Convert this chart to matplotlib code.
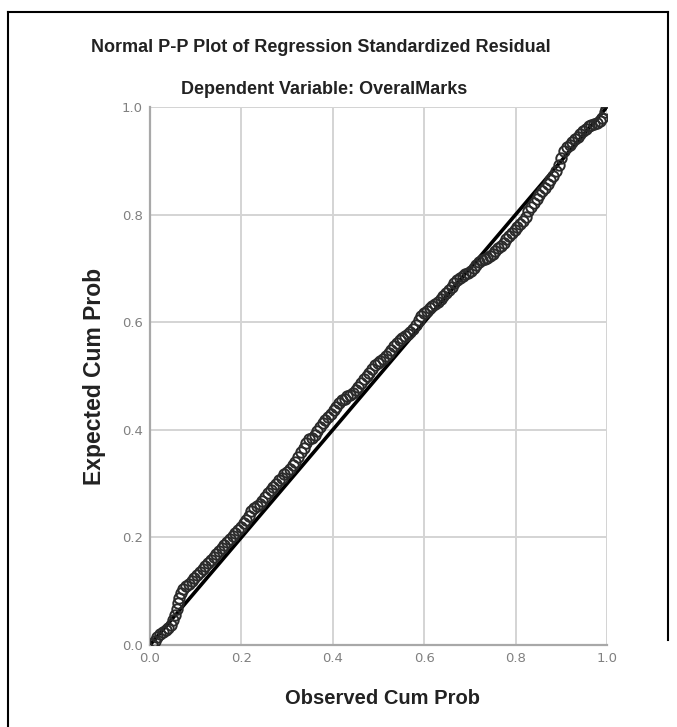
import matplotlib
matplotlib.use("Agg")
import matplotlib.pyplot as plt
from matplotlib.lines import Line2D

title = "Normal P-P Plot of Regression Standardized Residual"
subtitle = "Dependent Variable: OveralMarks"
xlabel = "Observed Cum Prob"
ylabel = "Expected Cum Prob"
ticks = [0.0, 0.2, 0.4, 0.6, 0.8, 1.0]
tick_labels = ["0.0", "0.2", "0.4", "0.6", "0.8", "1.0"]

observed = [0.004, 0.010, 0.016, 0.022, 0.028, 0.034, 0.040, 0.046, 0.050, 0.054,
            0.058, 0.061, 0.064, 0.068, 0.073, 0.079, 0.085, 0.091, 0.097, 0.103,
            0.109, 0.115, 0.121, 0.127, 0.133, 0.139, 0.145, 0.151, 0.157, 0.163,
            0.169, 0.175, 0.181, 0.187, 0.193, 0.199, 0.205, 0.211, 0.217, 0.222,
            0.228, 0.234, 0.240, 0.246, 0.252, 0.258, 0.264, 0.270, 0.276, 0.282,
            0.288, 0.294, 0.300, 0.306, 0.312, 0.318, 0.324, 0.330, 0.336, 0.342,
            0.348, 0.354, 0.360, 0.366, 0.372, 0.378, 0.384, 0.390, 0.396, 0.402,
            0.408, 0.414, 0.420, 0.426, 0.432, 0.438, 0.444, 0.450, 0.456, 0.462,
            0.468, 0.474, 0.480, 0.486, 0.492, 0.498, 0.504, 0.510, 0.516, 0.522,
            0.528, 0.534, 0.540, 0.546, 0.552, 0.558, 0.564, 0.570, 0.576, 0.582,
            0.588, 0.594, 0.600, 0.606, 0.612, 0.618, 0.624, 0.630, 0.636, 0.642,
            0.648, 0.654, 0.660, 0.666, 0.672, 0.678, 0.684, 0.690, 0.696, 0.702,
            0.708, 0.714, 0.720, 0.726, 0.732, 0.738, 0.744, 0.750, 0.756, 0.762,
            0.768, 0.774, 0.780, 0.786, 0.792, 0.798, 0.804, 0.810, 0.816, 0.822,
            0.828, 0.834, 0.840, 0.846, 0.852, 0.858, 0.864, 0.870, 0.876, 0.882,
            0.888, 0.894, 0.900, 0.906, 0.912, 0.918, 0.924, 0.930, 0.936, 0.942,
            0.948, 0.954, 0.960, 0.966, 0.972, 0.978, 0.984, 0.990, 0.995, 0.998]

expected = [0.002, 0.008, 0.014, 0.020, 0.024, 0.027, 0.032, 0.038, 0.046, 0.055,
            0.066, 0.078, 0.088, 0.097, 0.104, 0.109, 0.114, 0.119, 0.124, 0.130,
            0.135, 0.141, 0.147, 0.152, 0.158, 0.164, 0.170, 0.175, 0.181, 0.186,
            0.192, 0.197, 0.203, 0.208, 0.214, 0.220, 0.226, 0.232, 0.240, 0.249,
            0.255, 0.258, 0.262, 0.268, 0.275, 0.282, 0.288, 0.294, 0.300, 0.306,
            0.311, 0.317, 0.322, 0.328, 0.334, 0.341, 0.349, 0.358, 0.367, 0.376,
            0.382, 0.385, 0.390, 0.398, 0.406, 0.412, 0.418, 0.424, 0.430, 0.436,
            0.442, 0.449, 0.455, 0.458, 0.462, 0.464, 0.468, 0.474, 0.480, 0.487,
            0.494, 0.500, 0.506, 0.513, 0.520, 0.525, 0.528, 0.532, 0.537, 0.543,
            0.549, 0.555, 0.561, 0.566, 0.570, 0.574, 0.578, 0.582, 0.587, 0.595,
            0.605, 0.612, 0.617, 0.621, 0.626, 0.630, 0.634, 0.638, 0.643, 0.648,
            0.654, 0.660, 0.666, 0.672, 0.678, 0.683, 0.686, 0.689, 0.692, 0.696,
            0.701, 0.707, 0.712, 0.716, 0.718, 0.720, 0.723, 0.727, 0.732, 0.737,
            0.742, 0.748, 0.754, 0.760, 0.766, 0.772, 0.777, 0.782, 0.788, 0.796,
            0.806, 0.815, 0.822, 0.829, 0.836, 0.843, 0.850, 0.857, 0.864, 0.872,
            0.881, 0.892, 0.905, 0.918, 0.925, 0.930, 0.935, 0.940, 0.945, 0.950,
            0.955, 0.960, 0.964, 0.966, 0.968, 0.970, 0.974, 0.980, 0.990, 0.997]

W, H = 677, 727
fig = plt.figure(figsize=(W / 100, H / 100), dpi=100)
fig.patch.set_facecolor("white")

# outer frame
fig.add_artist(Line2D([8 / W, 8 / W], [0, 1 - 12 / H], transform=fig.transFigure, color="black", lw=1.5))
fig.add_artist(Line2D([8 / W, 668 / W], [1 - 12 / H, 1 - 12 / H], transform=fig.transFigure, color="black", lw=1.5))
fig.add_artist(Line2D([668 / W, 668 / W], [1 - 12 / H, 1 - 640 / H], transform=fig.transFigure, color="black", lw=1.5))

ax = fig.add_axes([150 / W, 1 - 645 / H, 457 / W, 538 / H])
ax.set_xlim(0, 1)
ax.set_ylim(0, 1)

ax.grid(True, color="#d4d4d4", lw=1.4)
ax.set_axisbelow(True)
for s in ["top", "right"]:
    ax.spines[s].set_visible(False)
for s in ["left", "bottom"]:
    ax.spines[s].set_color("#a8a8a8")
    ax.spines[s].set_linewidth(1.6)
ax.plot([0, 1], [1, 1], color="#d4d4d4", lw=1.4, zorder=0.5)
ax.plot([1, 1], [0, 1], color="#d4d4d4", lw=1.4, zorder=0.5)

ax.set_xticks(ticks)
ax.set_yticks(ticks)
ax.set_xticklabels(tick_labels)
ax.set_yticklabels(tick_labels)
ax.tick_params(length=0, labelsize=9.5, colors="#808080", pad=5)

ax.plot([0, 1], [0, 1], color="black", lw=2.6, zorder=3)
ax.plot(observed, expected, linestyle="none", marker="o", markersize=7.5,
        markerfacecolor="none", markeredgecolor="#2a2a2a", markeredgewidth=1.4, zorder=4)

fam = ["Liberation Sans", "DejaVu Sans"]
fig.text(321 / W, 1 - 47 / H, title, ha="center", va="center", fontsize=13,
         fontweight="bold", family=fam, color="#222222")
fig.text(324 / W, 1 - 90 / H, subtitle, ha="center", va="center", fontsize=13,
         fontweight="bold", family=fam, color="#222222")
fig.text(382 / W, 1 - 699 / H, xlabel, ha="center", va="center", fontsize=14.5,
         fontweight="bold", family=fam, color="#222222")
fig.text(95 / W, 1 - 376 / H, ylabel, ha="center", va="center", fontsize=16.5, rotation=90,
         fontweight="bold", family=fam, color="#222222")

fig.savefig("out.png", dpi=100)
